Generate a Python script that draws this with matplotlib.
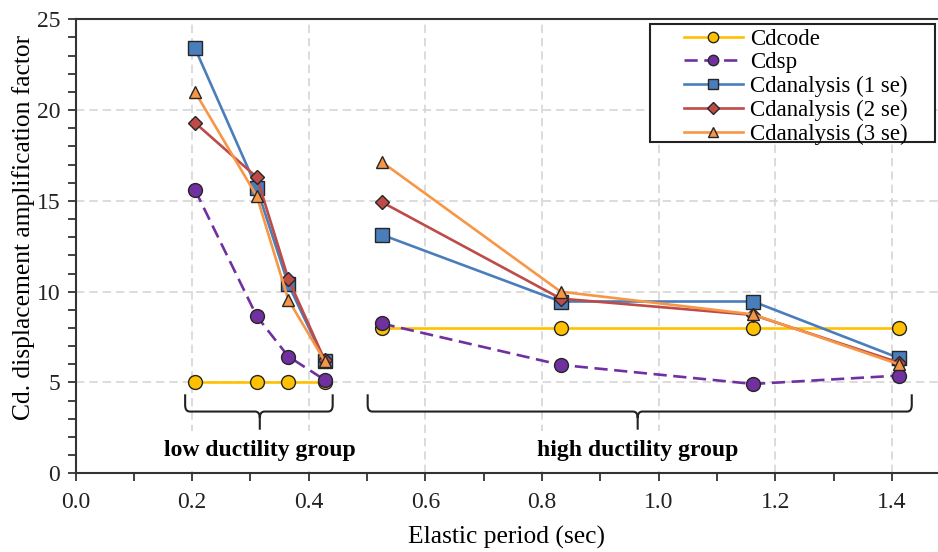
import numpy as np
import matplotlib
matplotlib.use("Agg")
import matplotlib.pyplot as plt
from matplotlib.path import Path
from matplotlib.patches import PathPatch, Rectangle
from matplotlib.ticker import MultipleLocator

plt.rcParams['font.family'] = ['Liberation Serif', 'DejaVu Serif']

# elastic periods (sec) for the two ductility groups
period = [0.205, 0.311, 0.365, 0.427, 0.525, 0.832, 1.162, 1.412]

cd_code = [5.0, 5.0, 5.0, 5.0, 8.0, 8.0, 8.0, 8.0]
cd_sp = [15.6, 8.64, 6.43, 5.15, 8.25, 5.97, 4.92, 5.38]
cd_1se = [23.4, 15.7, 10.4, 6.2, 13.14, 9.46, 9.46, 6.35]
cd_2se = [19.3, 16.3, 10.7, 6.25, 14.94, 9.62, 8.72, 6.1]
cd_3se = [21.0, 15.25, 9.55, 6.2, 17.15, 10.0, 8.75, 6.0]

low_idx = slice(0, 4)
high_idx = slice(4, 8)

series = [
    ('Cdcode', cd_code, '#FFC000', 'o', '-', 10),
    ('Cdsp', cd_sp, '#7030A0', 'o', (0, (5, 2.5)), 10),
    ('Cdanalysis (1 se)', cd_1se, '#4A7EBB', 's', '-', 9.5),
    ('Cdanalysis (2 se)', cd_2se, '#BE4B48', 'D', '-', 7.5),
    ('Cdanalysis (3 se)', cd_3se, '#F79646', '^', '-', 9),
]

# brace annotations: x0, x1, xtip, label
braces = [(0.188, 0.441, 0.316, 'low ductility group'),
          (0.501, 1.434, 0.964, 'high ductility group')]

fig = plt.figure(figsize=(9.38, 5.52), dpi=100)
ax = fig.add_axes([0.0805, 0.1426, 0.9195, 0.8224])

for name, vals, col, mk, ls, ms in series:
    x = np.array(period)
    y = np.array(vals)
    for k, idx in enumerate([low_idx, high_idx]):
        ax.plot(x[idx], y[idx], color=col, ls=ls, lw=1.9, marker=mk, ms=ms,
                mfc=col, mec='#262626', mew=1.0,
                label=name if k == 0 else None, zorder=3)

ax.set_xlim(0, 1.479)
ax.set_ylim(0, 25)
ax.xaxis.set_major_locator(MultipleLocator(0.2))
ax.xaxis.set_minor_locator(MultipleLocator(0.1))
ax.yaxis.set_major_locator(MultipleLocator(5))
ax.yaxis.set_minor_locator(MultipleLocator(1))
ax.xaxis.set_major_formatter(plt.FuncFormatter(lambda v, p: f'{v:.1f}'))
ax.tick_params(which='both', direction='out', length=6, width=1.2,
               labelsize=17, colors='#222222', pad=5)
ax.tick_params(axis='x', which='major', pad=7.5)
ax.grid(True, which='major', color='#D6D6D6', ls=(0, (5, 3)), lw=1.2, zorder=0)
for s in ['left', 'bottom', 'top']:
    ax.spines[s].set_linewidth(1.5)
    ax.spines[s].set_color('#333333')
ax.spines['right'].set_visible(False)

ax.set_xlabel('Elastic period (sec)', fontsize=18.4, labelpad=9)
ax.set_ylabel('Cd. displacement amplification factor', fontsize=18.4)
ax.yaxis.set_label_coords(-0.047, 0.542)

# curly braces under each group
ytop, ymid, ytip = 4.35, 3.4, 2.4
rx, ry = 0.008, 0.35
for x0, x1, xt, label in braces:
    verts = [(x0, ytop), (x0, ymid + ry), (x0, ymid), (x0 + rx, ymid),
             (xt - rx, ymid), (xt, ymid), (xt, ymid - ry), (xt, ytip),
             (xt, ymid - ry), (xt, ymid), (xt + rx, ymid),
             (x1 - rx, ymid), (x1, ymid), (x1, ymid + ry), (x1, ytop)]
    codes = [Path.MOVETO, Path.LINETO, Path.CURVE3, Path.CURVE3,
             Path.LINETO, Path.CURVE3, Path.CURVE3, Path.LINETO,
             Path.MOVETO, Path.CURVE3, Path.CURVE3,
             Path.LINETO, Path.CURVE3, Path.CURVE3, Path.LINETO]
    ax.add_patch(PathPatch(Path(verts, codes), fill=False, lw=1.5,
                           ec='#222222', zorder=4))
    ax.text(xt, 1.25, label, ha='center', va='center', fontsize=17,
            fontweight='bold', zorder=4,
            bbox=dict(boxstyle='square,pad=0.4', fc='white', ec='none'))

# legend box is wider than its content, so the frame is drawn separately
ax.add_patch(Rectangle((0.666, 0.730), 0.3305, 0.2596, transform=ax.transAxes,
                       fc='white', ec='#222222', lw=1.5, zorder=5))
leg = ax.legend(loc='upper left', bbox_to_anchor=(0.705, 0.979), fontsize=16.5,
                frameon=False, handlelength=2.6, labelspacing=0.11,
                borderpad=0, handletextpad=0.3, markerscale=0.75,
                borderaxespad=0)
leg.set_zorder(6)

fig.savefig('out.png', dpi=100)
